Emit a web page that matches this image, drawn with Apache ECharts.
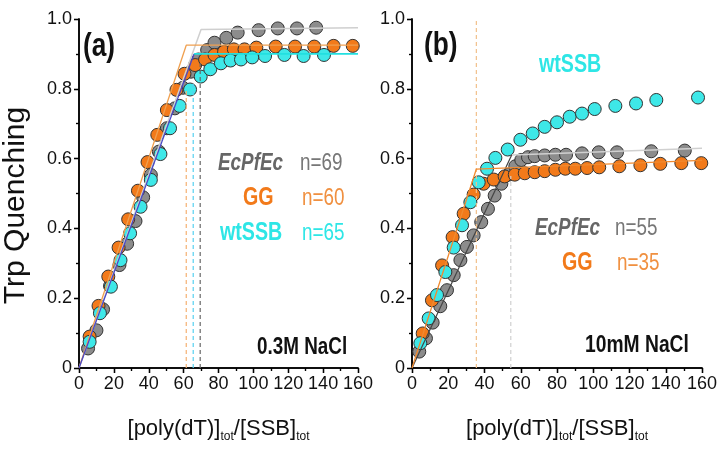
<!DOCTYPE html>
<html>
<head>
<meta charset="utf-8">
<script src="https://cdn.jsdelivr.net/npm/echarts@6/dist/echarts.min.js"></script>
<style>html,body{margin:0;padding:0;background:#fff}#c{width:724px;height:456px}</style>
</head>
<body>
<div id="c"></div>
<script>
// ---- Panel (a): 0.3M NaCl ----
var grayA = [[5.2,0.056],[10,0.108],[13.8,0.168],[17.8,0.235],[23.2,0.295],[27.6,0.356],[32.4,0.421],[36.8,0.489],[41.2,0.553],[45.8,0.62],[50.4,0.687],[55,0.744],[59.6,0.803],[64.2,0.849],[68.5,0.884],[73.5,0.911],[77.7,0.932],[84.5,0.946],[91,0.961],[103,0.968],[114,0.973],[125,0.973],[136,0.975]];
var orangeA = [[6.1,0.09],[11.2,0.178],[16.8,0.262],[22.7,0.345],[28.2,0.426],[33.8,0.508],[39.3,0.59],[44.9,0.668],[50.4,0.739],[55.9,0.797],[60.5,0.843],[66.6,0.868],[72.3,0.884],[77.7,0.897],[83.2,0.906],[88.8,0.913],[94.9,0.913],[101.7,0.918],[112.8,0.921],[123.9,0.921],[134.9,0.921],[146,0.923],[157,0.923]];
var cyanA = [[6.1,0.075],[12,0.157],[18.3,0.233],[23.8,0.309],[29.3,0.386],[35.3,0.462],[41.2,0.539],[46.7,0.613],[52.2,0.687],[57.7,0.751],[63.7,0.798],[69.8,0.835],[75.3,0.856],[81.4,0.873],[86.9,0.881],[92.9,0.884],[99.3,0.89],[106.7,0.894],[117.8,0.897],[128.8,0.894],[140.5,0.897]];
var orangeFitA = [[0,0],[61.5,0.925],[160,0.925]];
var grayFitA = [[0,0],[70,0.97],[160,0.975]];
var blueFitA = [[0,0],[66,0.9]];
var cyanFitA = [[66,0.9],[160,0.9]];
var orangeDashA = [[61.5,0],[61.5,0.8]];
var cyanDashA = [[65.5,0],[65.5,0.82]];
var grayDashA = [[69.5,0],[69.5,0.88]];

// ---- Panel (b): 10mM NaCl ----
var grayB = [[4,0.047],[7.7,0.085],[11.4,0.13],[15.6,0.177],[19.3,0.223],[23,0.266],[26.7,0.309],[30.3,0.347],[34,0.38],[38.2,0.418],[41.9,0.456],[45.6,0.494],[49.3,0.528],[53.3,0.554],[57,0.578],[60.3,0.596],[64,0.604],[67.7,0.607],[73.2,0.609],[79.1,0.611],[85,0.611],[93.8,0.615],[103,0.618],[113.1,0.618],[132,0.621],[150.5,0.623]];
var orangeB = [[5.9,0.099],[11,0.194],[16.6,0.294],[22.4,0.375],[28.5,0.442],[34,0.497],[39.5,0.528],[45.1,0.54],[51.1,0.549],[56.7,0.554],[62.2,0.558],[67.7,0.561],[73.2,0.564],[79.1,0.568],[84.6,0.571],[90.1,0.571],[96.6,0.573],[103.3,0.575],[114.4,0.578],[126,0.581],[137,0.585],[148.6,0.587],[159.6,0.587]];
var cyanB = [[4.6,0.071],[9.2,0.142],[13.8,0.209],[18.4,0.275],[23,0.345],[27.6,0.409],[32.2,0.475],[36.8,0.532],[41.4,0.571],[46,0.602],[52.8,0.626],[59.8,0.654],[66.6,0.672],[73.2,0.691],[80,0.704],[87,0.72],[93.8,0.729],[100.8,0.742],[112.2,0.751],[123.6,0.758],[134.8,0.768],[157.8,0.775]];
var orangeFitB = [[0,0],[35.5,0.57],[160,0.595]];
var grayFitB = [[0,0],[55,0.61]];
var grayPlateauB = [[55,0.61],[160,0.63]];
var orangeDashB = [[35.5,0],[35.5,1.0]];
var grayDashB = [[54.5,0],[54.5,0.55]];

var xTicks = [0,20,40,60,80,100,120,140,160];
var yTicks = ['0','0.2','0.4','0.6','0.8','1.0'];

var SANS = '"Liberation Sans", Arial, sans-serif';
var GRAY = '#8c8c8c', ORANGE = '#F27A1A', CYAN = '#3EE8E8';

function xAx(grid, top) {
  return {
    type: 'value', gridIndex: grid, position: top ? 'top' : 'bottom',
    min: xTicks[0], max: xTicks[xTicks.length - 1], interval: 20,
    axisLine: {show: true, lineStyle: {color: '#000', width: 1.5}},
    axisTick: {show: true, inside: !!top, length: 5, lineStyle: {color: '#000', width: 1.3}},
    minorTick: {show: true, splitNumber: 2, length: 3, lineStyle: {color: '#000', width: 1.2}},
    splitLine: {show: false},
    axisLabel: {show: !top, fontFamily: SANS, fontSize: 18, color: '#111', margin: 7},
    name: top ? '' : '{m|[poly(dT)]}{s|tot}{m|/[SSB]}{s|tot}',
    nameLocation: 'middle', nameGap: 50,
    nameTextStyle: {
      rich: {
        m: {fontFamily: SANS, fontSize: 22, lineHeight: 25, verticalAlign: 'top', color: '#111'},
        s: {fontFamily: SANS, fontSize: 12, lineHeight: 12, verticalAlign: 'bottom', padding: [16,0,0,0], color: '#111'}
      }
    }
  };
}
function yAx(grid, right, withName) {
  return {
    type: 'value', gridIndex: grid, position: right ? 'right' : 'left',
    min: 0, max: 1, interval: 0.2,
    axisLine: {show: true, lineStyle: {color: '#000', width: 1.5}},
    axisTick: {show: true, inside: !!right, length: 5, lineStyle: {color: '#000', width: 1.3}},
    minorTick: {show: true, splitNumber: 2, length: 3, lineStyle: {color: '#000', width: 1.2}},
    splitLine: {show: false},
    axisLabel: {show: !right, fontFamily: SANS, fontSize: 18, color: '#111', margin: 7,
      formatter: function (v) { return yTicks[Math.round(v / 0.2)]; }},
    name: withName ? 'Trp Quenching' : '',
    nameLocation: 'middle', nameGap: 48, nameRotate: 90,
    nameTextStyle: {fontFamily: SANS, fontSize: 30, color: '#111', padding: [0, 24, 0, 0]}
  };
}
function sc(data, color, xi, z) {
  return {type: 'scatter', xAxisIndex: xi, yAxisIndex: xi, data: data, symbolSize: 13, z: z,
    itemStyle: {color: color, borderColor: '#333', borderWidth: 1, opacity: 1}, silent: true};
}
function ln(data, color, xi, width, dashed) {
  return {type: 'line', xAxisIndex: xi, yAxisIndex: xi, data: data, symbol: 'none', z: 10, silent: true,
    lineStyle: {color: color, width: width, type: dashed ? [4, 3] : 'solid'}};
}
// condensed text (the original uses a narrow Arial-like face)
function txt(x, y, text, color, size, weight, style) {
  return {type: 'text', x: x, y: y, scaleX: 0.82, scaleY: 1.05, z: 100, silent: true,
    style: {text: text, fill: color, fontFamily: SANS, fontSize: size, fontWeight: weight || 'normal',
      fontStyle: style || 'normal', align: 'left', verticalAlign: 'middle'}};
}

var chart = echarts.init(document.getElementById('c'), null, {renderer: 'canvas'});
chart.setOption({
  animation: false,
  backgroundColor: '#fff',
  grid: [
    {left: 69, right: 366, top: 19, bottom: 88},
    {left: 412, right: 22, top: 19, bottom: 88}
  ],
  xAxis: [xAx(0, false), xAx(0, true), xAx(1, false), xAx(1, true)],
  yAxis: [yAx(0, false, true), yAx(0, true, false), yAx(1, false, false), yAx(1, true, false)],
  series: [
    sc(grayA, GRAY, 0, 3), sc(orangeA, ORANGE, 0, 4), sc(cyanA, CYAN, 0, 5),
    ln(orangeDashA, '#F5B070', 0, 1.2, true),
    ln(cyanDashA, '#55D0F0', 0, 1.2, true),
    ln(grayDashA, '#666', 0, 1.2, true),
    ln(grayFitA, '#cfcfcf', 0, 1.5),
    ln(orangeFitA, '#F0A050', 0, 1.3),
    ln(blueFitA, '#4848C8', 0, 1.3),
    ln(cyanFitA, '#22E0E0', 0, 1.8),
    sc(grayB, GRAY, 2, 3), sc(orangeB, ORANGE, 2, 4), sc(cyanB, CYAN, 2, 5),
    ln(orangeDashB, '#F2C08A', 2, 1.2, true),
    ln(grayDashB, '#d0d0d0', 2, 1.2, true),
    ln(grayPlateauB, '#d0d0d0', 2, 1.5),
    ln(grayFitB, '#444', 2, 1.2),
    ln(orangeFitB, '#F08A30', 2, 1.3)
  ],
  graphic: [
    txt(83, 47, '(a)', '#111', 32, 'bold'),
    txt(218, 163, 'EcPfEc', '#666', 23, 'bold', 'italic'),
    txt(300, 163, 'n=69', '#777', 23),
    txt(243, 198, 'GG', ORANGE, 24, 'bold'),
    txt(302, 198, 'n=60', '#F09040', 23),
    txt(220, 233, 'wtSSB', '#2EE6E6', 24, 'bold'),
    txt(302, 233, 'n=65', '#2EE6E6', 23),
    txt(257, 347, '0.3M NaCl', '#111', 23, 'bold'),
    txt(424, 46, '(b)', '#111', 32, 'bold'),
    txt(539, 65, 'wtSSB', '#2EE6E6', 24, 'bold'),
    txt(535, 228, 'EcPfEc', '#666', 23, 'bold', 'italic'),
    txt(615, 228, 'n=55', '#777', 23),
    txt(562, 263, 'GG', ORANGE, 24, 'bold'),
    txt(617, 263, 'n=35', '#F09040', 23),
    txt(585, 345, '10mM NaCl', '#111', 23.5, 'bold')
  ]
});
</script>
</body>
</html>
